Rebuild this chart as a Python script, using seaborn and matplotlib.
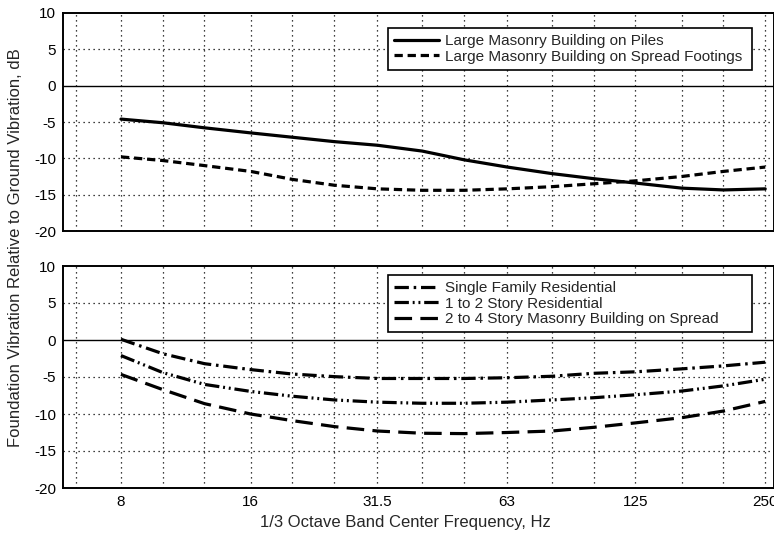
import matplotlib
matplotlib.use("Agg")
import matplotlib.pyplot as plt
import matplotlib.ticker as mticker
import seaborn as sns
import pandas as pd

sns.set_style("white")
plt.rcParams["font.family"] = ["Liberation Sans", "DejaVu Sans"]
plt.rcParams["axes.unicode_minus"] = False

# 1/3 octave band centre frequencies (Hz)
freqs = [8, 10, 12.5, 16, 20, 25, 31.5, 40, 50, 63, 80, 100, 125, 160, 200, 250]
grid_freqs = [6.3] + freqs
tick_freqs = [8, 16, 31.5, 63, 125, 250]
tick_labels = ["8", "16", "31.5", "63", "125", "250"]

# top panel: large masonry buildings
piles = [-4.6, -5.1, -5.8, -6.5, -7.1, -7.7, -8.2, -9.0, -10.2, -11.2, -12.1, -12.8, -13.4, -14.1, -14.35, -14.2]
spread_footings = [-9.8, -10.3, -11.0, -11.8, -12.9, -13.7, -14.2, -14.4, -14.4, -14.2, -13.9, -13.5, -13.1, -12.5, -11.8, -11.2]

# bottom panel: residential buildings
single_family = [0.1, -1.85, -3.2, -4.0, -4.6, -4.95, -5.2, -5.2, -5.2, -5.1, -4.9, -4.5, -4.3, -3.9, -3.5, -3.0]
one_two_story = [-2.1, -4.4, -6.0, -6.95, -7.6, -8.1, -8.4, -8.55, -8.55, -8.4, -8.1, -7.8, -7.4, -6.9, -6.2, -5.3]
two_four_story = [-4.65, -6.7, -8.6, -10.0, -10.9, -11.7, -12.3, -12.6, -12.65, -12.5, -12.3, -11.8, -11.2, -10.5, -9.6, -8.3]

W, H = 774, 535
fig = plt.figure(figsize=(W / 100, H / 100), dpi=100)
ax_top = fig.add_axes([63 / W, 1 - 231 / H, 1 - 63 / W, 218 / H])
ax_bot = fig.add_axes([63 / W, 1 - 488 / H, 1 - 63 / W, 222 / H])


def estilo_eixo(ax, mostrar_x):
    ax.set_xscale("log")
    ax.set_xlim(5.87, 262)
    ax.set_ylim(-20, 10)
    ax.set_yticks([-20, -15, -10, -5, 0, 5, 10])
    ax.set_xticks(tick_freqs)
    ax.xaxis.set_minor_locator(mticker.FixedLocator(grid_freqs))
    ax.xaxis.set_minor_formatter(mticker.NullFormatter())
    if mostrar_x:
        ax.set_xticklabels(tick_labels)
    else:
        ax.set_xticklabels([])
    ax.tick_params(which="both", length=0, labelsize=11, colors="black")
    ax.tick_params(axis="y", pad=5)
    ax.tick_params(axis="x", pad=5)
    for f in grid_freqs:
        ax.axvline(f, color="black", lw=0.9, ls=(0, (1, 3)), zorder=0)
    for y in [-15, -10, -5, 5]:
        ax.axhline(y, color="black", lw=0.9, ls=(0, (1, 3)), zorder=0)
    ax.axhline(0, color="black", lw=1.0, zorder=0)
    for s in ax.spines.values():
        s.set_color("black")
        s.set_linewidth(1.4)
    ax.set_xlabel("")
    ax.set_ylabel("")


def legenda(ax, y_top, y_bot):
    x0, x1 = 388 / W, 752 / W
    leg = ax.legend(
        loc="upper left",
        bbox_to_anchor=(x0, 1 - y_bot / H, x1 - x0, (y_bot - y_top) / H),
        bbox_transform=fig.transFigure,
        mode="expand",
        fontsize=11,
        frameon=True,
        fancybox=False,
        edgecolor="black",
        framealpha=1,
        handlelength=2.95,
        handletextpad=0.4,
        labelspacing=0.1,
        borderpad=0.4,
        borderaxespad=0,
    )
    leg.get_frame().set_linewidth(1.2)


lw = 2.3
df_top = pd.DataFrame({"f": freqs, "piles": piles, "spread": spread_footings})
sns.lineplot(data=df_top, x="f", y="piles", ax=ax_top, color="black", lw=lw,
             label="Large Masonry Building on Piles")
sns.lineplot(data=df_top, x="f", y="spread", ax=ax_top, color="black", lw=lw,
             linestyle=(0, (2.6, 1.5)), label="Large Masonry Building on Spread Footings")
estilo_eixo(ax_top, False)
legenda(ax_top, 28, 74)

df_bot = pd.DataFrame({"f": freqs, "sf": single_family, "s12": one_two_story, "s24": two_four_story})
sns.lineplot(data=df_bot, x="f", y="sf", ax=ax_bot, color="black", lw=lw,
             linestyle=(0, (4.5, 1.5, 0.8, 1.5)), label="Single Family Residential")
sns.lineplot(data=df_bot, x="f", y="s12", ax=ax_bot, color="black", lw=lw,
             linestyle=(0, (4.5, 1.2, 0.6, 1.2, 0.6, 1.2)), label="1 to 2 Story Residential")
sns.lineplot(data=df_bot, x="f", y="s24", ax=ax_bot, color="black", lw=lw,
             linestyle=(0, (5.5, 2.6)), label="2 to 4 Story Masonry Building on Spread")
estilo_eixo(ax_bot, True)
legenda(ax_bot, 275, 331)

fig.text(405 / W, 1 - 522 / H, "1/3 Octave Band Center Frequency, Hz",
         ha="center", va="center", fontsize=12)
fig.text(16 / W, 1 - 248 / H, "Foundation Vibration Relative to Ground Vibration, dB",
         ha="center", va="center", rotation=90, fontsize=12)

fig.savefig("out.png", dpi=100)
